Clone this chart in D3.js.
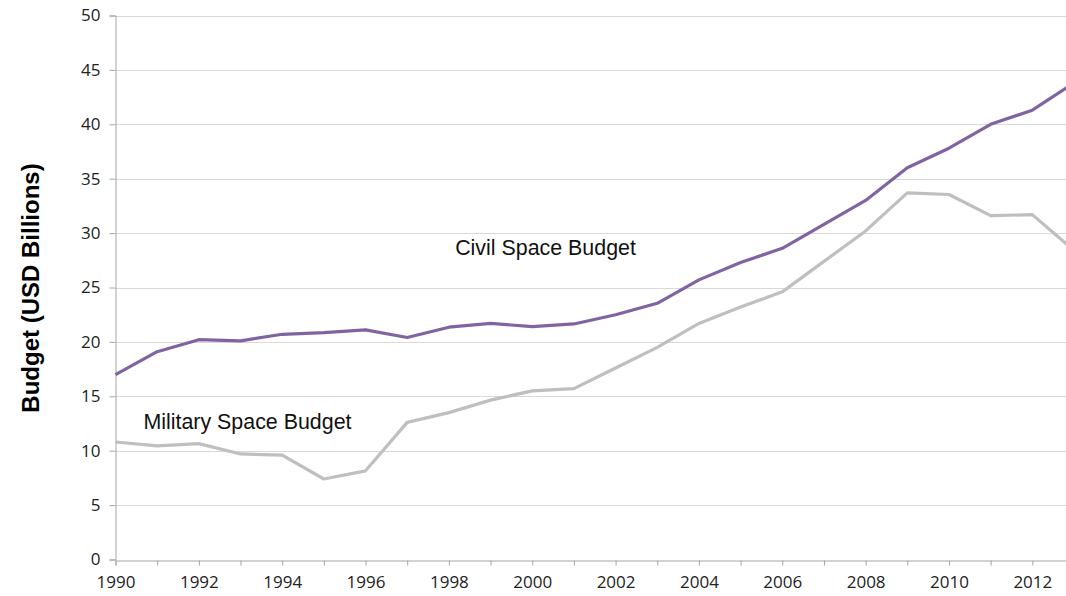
<!DOCTYPE html>
<html>
<head>
<meta charset="utf-8">
<script src="https://cdn.jsdelivr.net/npm/d3@7"></script>
<style>
  html, body { margin: 0; padding: 0; background: #fff; }
  svg { display: block; }
</style>
</head>
<body>
<svg id="chart" width="1066" height="596"></svg>
<script>
// Space budgets, USD billions, 1990–2013
const years = [1990, 1991, 1992, 1993, 1994, 1995, 1996, 1997, 1998, 1999, 2000, 2001,
               2002, 2003, 2004, 2005, 2006, 2007, 2008, 2009, 2010, 2011, 2012, 2013];
const civilBudget = [17.0, 19.1, 20.2, 20.1, 20.7, 20.85, 21.1, 20.4, 21.35, 21.7, 21.4, 21.65,
                     22.5, 23.55, 25.7, 27.3, 28.6, 30.8, 33.0, 36.0, 37.8, 40.0, 41.3, 43.8];
const militaryBudget = [10.8, 10.45, 10.65, 9.7, 9.6, 7.4, 8.15, 12.6, 13.5, 14.65, 15.5, 15.7,
                        17.6, 19.5, 21.7, 23.2, 24.6, 27.4, 30.2, 33.7, 33.55, 31.6, 31.7, 28.4];
const yTicks = [0, 5, 10, 15, 20, 25, 30, 35, 40, 45, 50];
const xTickLabels = [1990, 1992, 1994, 1996, 1998, 2000, 2002, 2004, 2006, 2008, 2010, 2012];

const svg = d3.select("#chart");

const x = d3.scaleLinear().domain([1990, 2013]).range([115.5, 1074]);
const y = d3.scaleLinear().domain([0, 50]).range([559.5, 15.5]);

const tickFont = "'Open Sans', 'Noto Sans', sans-serif";

// Horizontal gridlines
svg.append("g")
  .selectAll("line")
  .data(yTicks.filter(d => d > 0))
  .join("line")
  .attr("x1", x(1990)).attr("x2", 1066)
  .attr("y1", d => Math.round(y(d)) + 0.5).attr("y2", d => Math.round(y(d)) + 0.5)
  .attr("stroke", "#d9d9d9").attr("stroke-width", 1);

// Y axis
const yAxis = svg.append("g")
  .attr("transform", `translate(${Math.round(x(1990)) - 0.5},0)`)
  .call(d3.axisLeft(y).tickValues(yTicks).tickSize(6).tickPadding(9));
yAxis.select(".domain").attr("stroke", "#a6a6a6");
yAxis.selectAll(".tick line").attr("stroke", "#a6a6a6");
yAxis.selectAll(".tick text")
  .attr("font-family", tickFont).attr("font-size", 17).attr("fill", "#222");

// X axis: a tick every year, labels on even years
const xAxis = svg.append("g")
  .attr("transform", `translate(0,${Math.round(y(0)) + 0.5})`)
  .call(d3.axisBottom(x).tickValues(years).tickSize(5).tickPadding(10)
    .tickFormat(d => xTickLabels.includes(d) ? String(d) : ""));
xAxis.select(".domain").attr("stroke", "#a6a6a6");
xAxis.selectAll(".tick line").attr("stroke", "#a6a6a6");
xAxis.selectAll(".tick text")
  .attr("font-family", tickFont).attr("font-size", 17).attr("fill", "#222");

// Budget lines
const line = d3.line().x((d, i) => x(years[i])).y(d => y(d));

svg.append("path")
  .datum(militaryBudget)
  .attr("d", line)
  .attr("fill", "none")
  .attr("stroke", "#bfbfbf")
  .attr("stroke-width", 3.2)
  .attr("stroke-linejoin", "round");

svg.append("path")
  .datum(civilBudget)
  .attr("d", line)
  .attr("fill", "none")
  .attr("stroke", "#8064a2")
  .attr("stroke-width", 3.2)
  .attr("stroke-linejoin", "round");

// Series labels
const labelFont = "'Liberation Sans', Arial, sans-serif";
svg.append("text")
  .attr("x", x(1998.15)).attr("y", y(27.95))
  .attr("font-family", labelFont).attr("font-size", 21.4).attr("fill", "#111")
  .text("Civil Space Budget");

svg.append("text")
  .attr("x", x(1990.67)).attr("y", y(11.95))
  .attr("font-family", labelFont).attr("font-size", 21.4).attr("fill", "#111")
  .text("Military Space Budget");

// Y axis title
svg.append("text")
  .attr("transform", `translate(38.5,288) rotate(-90)`)
  .attr("text-anchor", "middle")
  .attr("font-family", labelFont).attr("font-size", 24).attr("font-weight", "bold")
  .attr("fill", "#000")
  .text("Budget (USD Billions)");
</script>
</body>
</html>
